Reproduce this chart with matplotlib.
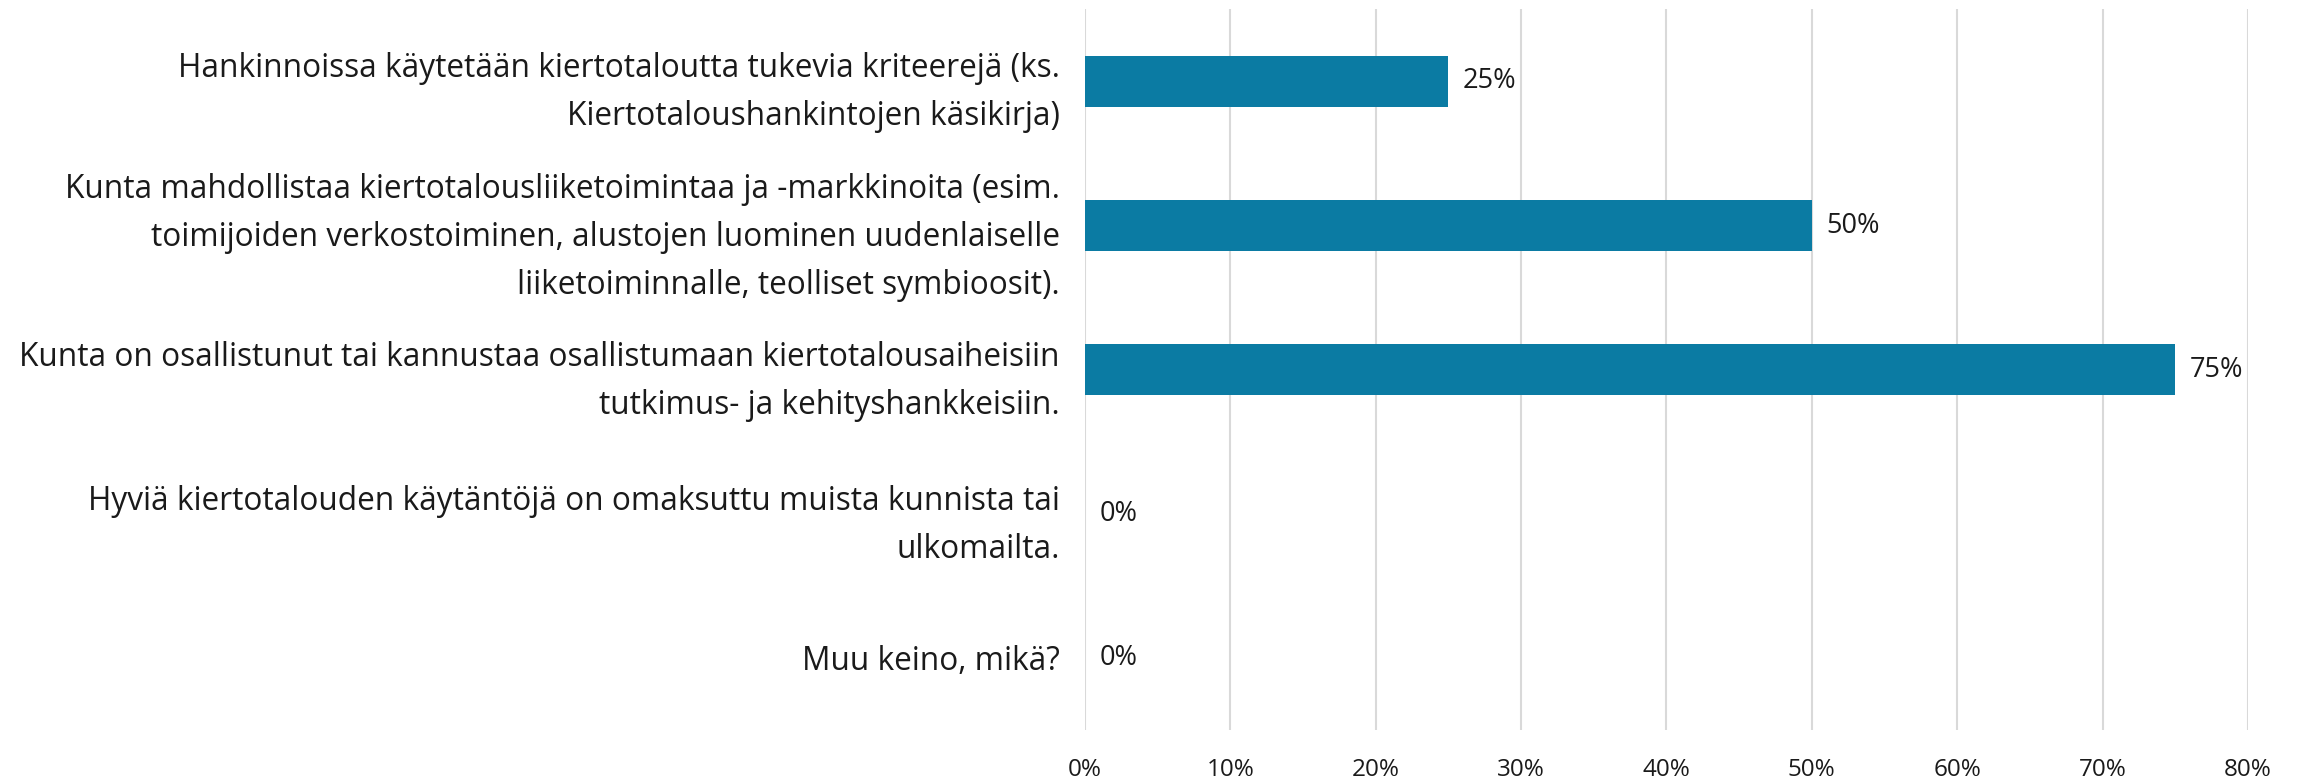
import matplotlib
matplotlib.use("Agg")
import matplotlib.pyplot as plt
from matplotlib.ticker import FuncFormatter

categories = [
    "Hankinnoissa käytetään kiertotaloutta tukevia kriteerejä (ks.\nKiertotaloushankintojen käsikirja)",
    "Kunta mahdollistaa kiertotalousliiketoimintaa ja -markkinoita (esim.\ntoimijoiden verkostoiminen, alustojen luominen uudenlaiselle\nliiketoiminnalle, teolliset symbioosit).",
    "Kunta on osallistunut tai kannustaa osallistumaan kiertotalousaiheisiin\ntutkimus- ja kehityshankkeisiin.",
    "Hyviä kiertotalouden käytäntöjä on omaksuttu muista kunnista tai\nulkomailta.",
    "Muu keino, mikä?",
]
values = [25, 50, 75, 0, 0]
xticks = [0, 10, 20, 30, 40, 50, 60, 70, 80]

plt.rcParams['font.family'] = ['Open Sans', 'DejaVu Sans']

fig = plt.figure(figsize=(22.98, 7.79), dpi=100)
ax = fig.add_axes([0.4721, 0.0629, 0.9782 - 0.4721, 0.988 - 0.0629])

ypos = list(range(len(categories)))
bars = ax.barh(ypos, values, height=0.355, color="#0B7BA3", zorder=3)

for y, v in zip(ypos, values):
    ax.text(v + 1.0, y, f"{v}%", va="center", ha="left", fontsize=19.5, color="#1a1a1a", zorder=4)

ax.set_xlim(0, 80)
ax.set_ylim(4.5, -0.5)
ax.set_xticks(xticks)
ax.xaxis.set_major_formatter(FuncFormatter(lambda x, p: f"{int(x)}%"))
ax.set_yticks(ypos)
ax.set_yticklabels(categories, fontsize=22.8, linespacing=1.6, ha="right", color="#1a1a1a")
ax.tick_params(axis="y", length=0, pad=18)
ax.tick_params(axis="x", length=0, pad=20, labelsize=17.5, colors="#1a1a1a")
ax.grid(axis="x", color="#D9D9D9", linewidth=1.5, zorder=0)
for s in ax.spines.values():
    s.set_visible(False)

fig.savefig("out.png", dpi=100)
